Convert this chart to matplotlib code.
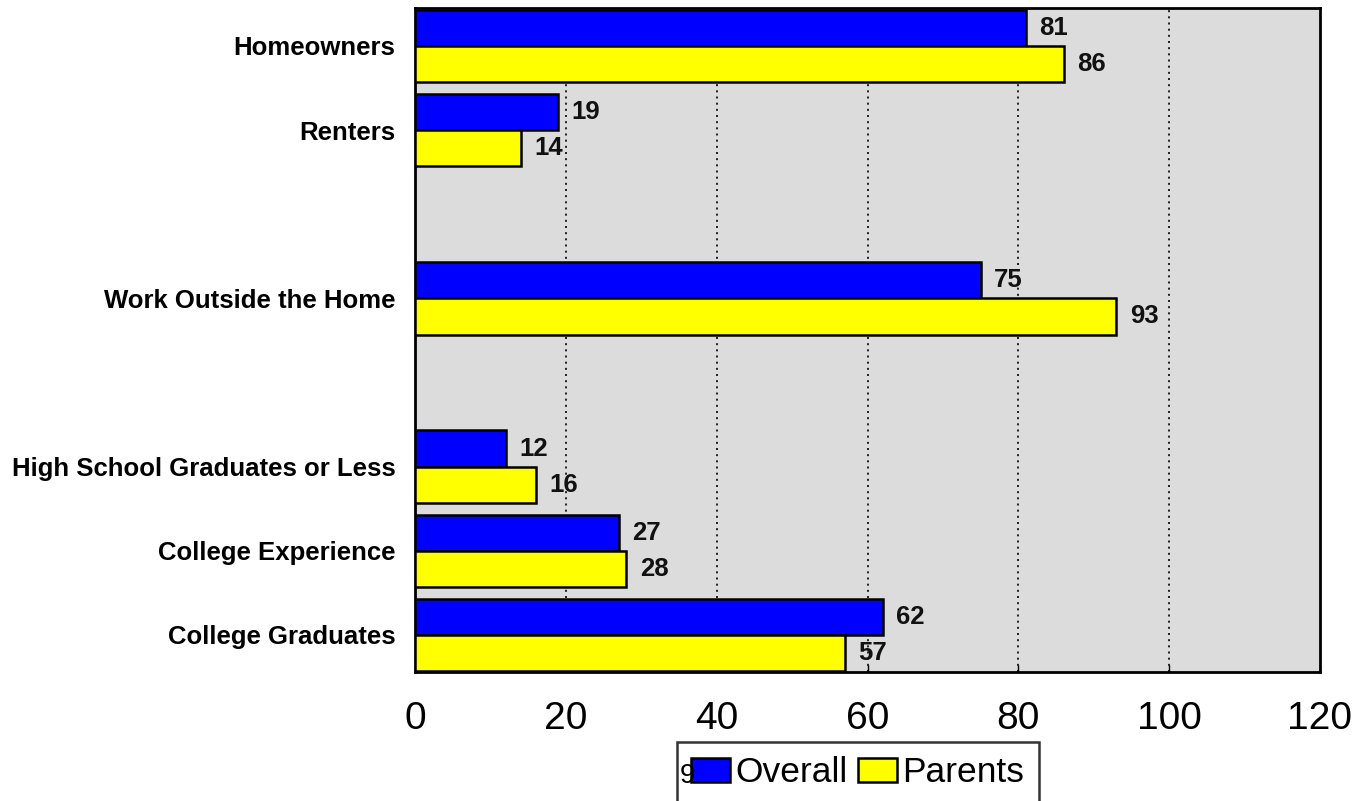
import matplotlib.pyplot as plt
import numpy as np

# chart data
categories = [
    "Homeowners",
    "Renters",
    "Work Outside the Home",
    "High School Graduates or Less",
    "College Experience",
    "College Graduates",
]
slots = [0, 1, 3, 5, 6, 7]  # gaps between groups
overall = [81, 19, 75, 12, 27, 62]
parents = [86, 14, 93, 16, 28, 57]
x_ticks = [0, 20, 40, 60, 80, 100, 120]

BLUE = "#0000ff"
YELLOW = "#ffff00"
BG = "#dcdcdc"
FONT = "Liberation Sans"


def main():
    fig = plt.figure(figsize=(13.56, 8.01), dpi=100)
    fig.patch.set_facecolor("white")
    ax = fig.add_axes([415 / 1356, 1 - 672 / 801, 905 / 1356, 664 / 801])
    ax.set_facecolor(BG)

    y = np.array(slots, dtype=float)
    h = 0.43

    b1 = ax.barh(y - h / 2, overall, height=h, color=BLUE, edgecolor="black",
                 linewidth=1.8, label="Overall", zorder=3)
    b2 = ax.barh(y + h / 2, parents, height=h, color=YELLOW, edgecolor="black",
                 linewidth=1.8, label="Parents", zorder=3)

    for bars, vals in ((b1, overall), (b2, parents)):
        for bar, v in zip(bars, vals):
            ax.text(v + 1.8, bar.get_y() + bar.get_height() / 2, f"{v}",
                    ha="left", va="center", fontsize=18.5, fontweight="bold",
                    family=FONT, color="#111111", zorder=4)

    ax.set_xlim(0, 120)
    ax.set_ylim(7.44, -0.45)
    ax.set_xticks(x_ticks)
    ax.set_xticklabels([str(t) for t in x_ticks], fontsize=28, family=FONT)
    ax.set_yticks(slots)
    ax.set_yticklabels(categories, fontsize=18.5, fontweight="bold", family=FONT)
    ax.tick_params(axis="x", direction="in", length=5, width=1, pad=21)
    ax.tick_params(axis="y", length=0, pad=14)

    for xv in x_ticks[1:-1]:
        ax.axvline(xv, color="black", linestyle=(0, (1.2, 2.5)), linewidth=1.2, zorder=1)

    for s in ax.spines.values():
        s.set_linewidth(2)
        s.set_color("black")

    leg = fig.legend(
        handles=[b1, b2],
        labels=["Overall", "Parents"],
        loc="upper left",
        bbox_to_anchor=(677 / 1356, 1 - 742 / 801),
        ncol=2,
        frameon=True,
        fancybox=False,
        edgecolor="black",
        prop={"family": FONT, "size": 25.5},
        handlelength=1.1,
        handleheight=0.65,
        handletextpad=0.15,
        columnspacing=0.3,
        borderpad=0.4,
        borderaxespad=0,
    )
    leg.get_frame().set_linewidth(1.8)
    fig.text(680 / 1356, 1 - 776 / 801, "9", fontsize=20, family=FONT,
             va="center", zorder=10)

    fig.savefig("out.png", dpi=100, facecolor=fig.get_facecolor())


if __name__ == "__main__":
    main()
